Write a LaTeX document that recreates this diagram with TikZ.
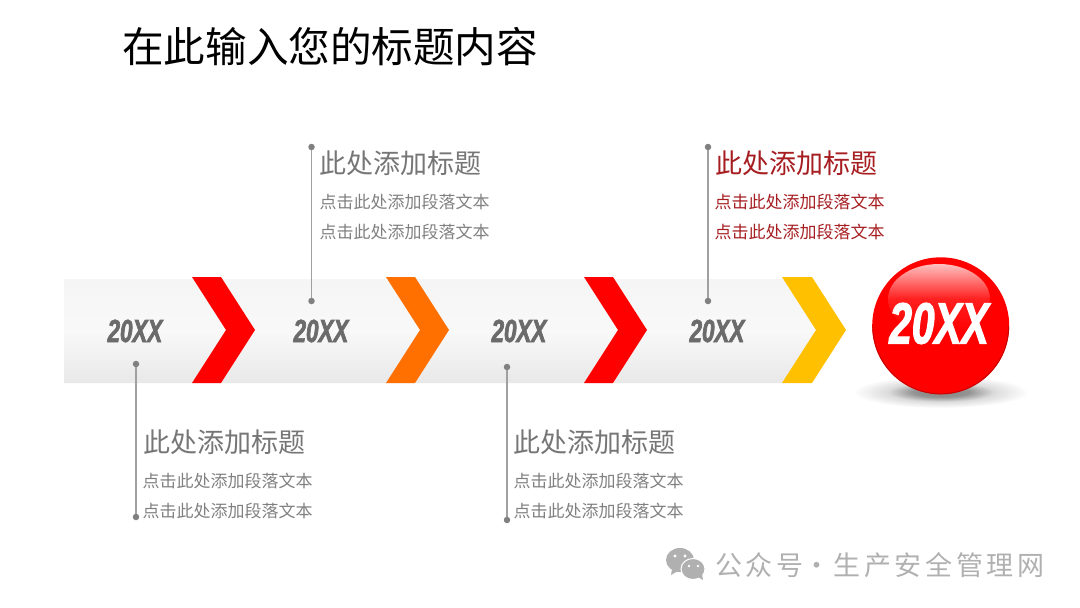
\documentclass[tikz,border=0pt]{standalone}
\usepackage{fontspec}
\setmainfont{Noto Sans CJK SC}
\newfontfamily\yearfont[FakeStretch=0.70,BoldItalicFont={Liberation Sans Bold Italic},BoldItalicFeatures={FakeBold=2}]{Liberation Sans}
\newfontfamily\foot[LetterSpace=13.5]{Noto Sans CJK SC}
\usetikzlibrary{calc}
\definecolor{txtgray}{HTML}{767676}
\definecolor{yeargray}{HTML}{6B6B6B}
\definecolor{bodygray}{HTML}{808080}
\definecolor{linegray}{HTML}{A0A0A0}
\definecolor{dotgray}{HTML}{808080}
\definecolor{darkred}{HTML}{A61E22}
\definecolor{markgray}{HTML}{B0B0B0}
\definecolor{chevred}{HTML}{FF0000}
\definecolor{chevorange}{HTML}{FF7000}
\definecolor{chevyellow}{HTML}{FFC000}
\pgfdeclareradialshading{ballshadow}{\pgfpoint{0bp}{0bp}}{%
  color(0bp)=(black!50); color(8bp)=(black!42); color(15bp)=(black!14); color(25bp)=(white); color(50bp)=(white)}
\tikzset{
  title/.style={anchor=west,inner sep=0pt,font=\fontsize{41.6}{42}\selectfont,text=black},
  head/.style={anchor=west,inner sep=0pt,font=\fontsize{27}{27}\selectfont,text=txtgray},
  para/.style={anchor=west,inner sep=0pt,font=\fontsize{17}{17}\selectfont,text=bodygray},
  year/.style={inner sep=0pt,font=\fontsize{32}{32}\selectfont\yearfont\bfseries\itshape,text=yeargray},
  bigyear/.style={inner sep=0pt,font=\fontsize{58}{58}\selectfont\yearfont\bfseries\itshape,text=white},
  pin/.style={circle,fill=dotgray,inner sep=0pt,minimum size=6.5pt},
  lead/.style={draw=linegray,line width=1.4pt}
}
\begin{document}
\begin{tikzpicture}[x=1pt,y=-1pt]
\useasboundingbox (0,0) rectangle (1080,608);
% bar
\shade[top color=gray!8,bottom color=gray!18,middle color=gray!5]
  (64,279) -- (783,279) -- (817,330) -- (783,383) -- (64,383) -- cycle;
% chevrons
\fill[chevred]    (192,277) -- (221,277) -- (255,330) -- (221,383) -- (192,383) -- (226,330) -- cycle;
\fill[chevorange] (386,277) -- (415,277) -- (449,330) -- (415,383) -- (386,383) -- (420,330) -- cycle;
\fill[chevred]    (584,277) -- (613,277) -- (647,330) -- (613,383) -- (584,383) -- (618,330) -- cycle;
\fill[chevyellow] (782,277) -- (812,277) -- (846,330) -- (812,383) -- (782,383) -- (816,330) -- cycle;
% ball shadow
\shade[shading=ballshadow] (941,392) ellipse (88 and 16);
% ball
\fill[chevred] (940.7,325.8) circle (68.5);
\draw[red!78!black,line width=0.9pt] (872.7,325.8) arc[start angle=180,end angle=0,radius=68];
\shade[top color=red!25!white,bottom color=chevred,middle color=red!88!white] (939,299) ellipse (51 and 35);
% years
\node[year] (y1) at (135,331) {20XX};
\node[year] (y2) at (321,331) {20XX};
\node[year] (y3) at (519,331) {20XX};
\node[year] (y4) at (717,331) {20XX};
\node[bigyear] (y5) at (939,323.5) {20XX};
% title
\node[title] (t) at (122,47) {在此输入您的标题内容};
% pins and leads
\node[pin] (p1a) at (136,364) {};
\node[pin] (p1b) at (136,517) {};
\node[pin] (p2a) at (311.5,147) {};
\node[pin] (p2b) at (311.5,301) {};
\node[pin] (p3a) at (507,367) {};
\node[pin] (p3b) at (507,520) {};
\node[pin] (p4a) at (708,147) {};
\node[pin] (p4b) at (708,301) {};
\draw[lead] (p1a) -- (p1b);
\draw[lead] (p2a) -- (p2b);
\draw[lead] (p3a) -- (p3b);
\draw[lead] (p4a) -- (p4b);
% text groups
\node[head] (h1) at (143,442) {此处添加标题};
\node[para] (b1a) at (142.5,481) {点击此处添加段落文本};
\node[para] (b1b) at (142.5,511) {点击此处添加段落文本};
\node[head] (h2) at (319,163) {此处添加标题};
\node[para] (b2a) at (319.5,202) {点击此处添加段落文本};
\node[para] (b2b) at (319.5,232) {点击此处添加段落文本};
\node[head] (h3) at (513,442) {此处添加标题};
\node[para] (b3a) at (513.5,481) {点击此处添加段落文本};
\node[para] (b3b) at (513.5,511) {点击此处添加段落文本};
\node[head,text=darkred] (h4) at (715,163) {此处添加标题};
\node[para,text=darkred] (b4a) at (714.5,202) {点击此处添加段落文本};
\node[para,text=darkred] (b4b) at (714.5,232) {点击此处添加段落文本};
% watermark icon
\fill[markgray] (680,560) ellipse (14 and 12);
\fill[markgray] (672,569) -- (671,575) -- (678,571) -- cycle;
\fill[markgray,draw=white,line width=1pt] (693,569) ellipse (12 and 10.5);
\fill[markgray] (698,577) -- (703,580) -- (702,574) -- cycle;
\fill[white] (675,556) circle (1.6) (685,556) circle (1.6) (689,566) circle (1.4) (698,566) circle (1.4);
\node[anchor=west,inner sep=0pt,text=markgray,font=\fontsize{27}{27}\selectfont\foot] (wm) at (715,565) {公众号\makebox[26pt]{·}\hspace{4pt}生产安全管理网};
\end{tikzpicture}
\end{document}
